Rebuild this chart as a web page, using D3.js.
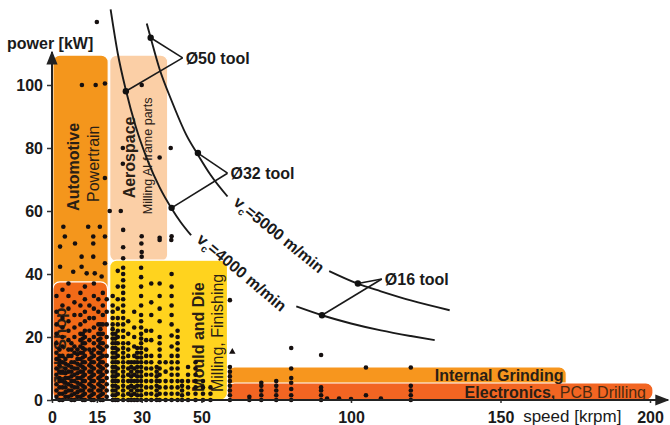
<!DOCTYPE html>
<html>
<head>
<meta charset="utf-8">
<script src="https://cdn.jsdelivr.net/npm/d3@7"></script>
<style>
  html, body { margin: 0; padding: 0; background: #fff; }
  svg { display: block; font-family: "Liberation Sans", Arial, sans-serif; }
</style>
</head>
<body>
<svg id="chart" width="670" height="425"></svg>
<script>
// Axis ticks
const speedTicks = [0, 15, 30, 50, 100, 150, 200];
const powerTicks = [0, 20, 40, 60, 80, 100];

// Application zones: speed range [krpm] and power range [kW]
const zoneNames  = ["Automotive", "Aerospace", "Job Shop", "Mould and Die", "Internal Grinding", "Electronics"];
const zoneSpeed  = [[0.3, 18.8], [19.3, 38.7], [0.3, 18.6], [19.3, 58.7], [58.7, 172], [58.7, 201]];
const zonePower  = [[0, 109.5], [44, 109.5], [0, 37.5], [0, 44.4], [0, 10.5], [0, 5.4]];

// Cutting-speed curves (null = gap for the curve label)
const curve5000 = [[31.7,119.5],[33,115],[36,105],[40,95],[45,84],[48.7,78],[53,71.5],[58.7,64.6],null,
                   [92.7,40.9],[102,37],[110,34.5],[120,31.6],[133,28.5]];
const curve4000 = [[19.6,124],[22,110],[24.7,98.4],[28,86.8],[32,76],[36,67.5],[40,60.8],[43,56.5],[46.5,52.3],null,
                   [81.7,29.7],[90.3,26.9],[100,24.3],[110,22.1],[120,20.3],[128,19]];

// Tool diameters: operating points on each curve and label anchor
const toolNames   = ["Ø50 tool", "Ø32 tool", "Ø16 tool"];
const tool5000    = [[33, 115], [48.8, 78.4], [102.3, 37]];
const tool4000    = [[24.7, 98], [40, 61], [90.3, 26.9]];
const toolLabelAt = [[43.7, 108.6], [58.7, 72], [110.3, 38.4]];

// Spindle applications: columns of [speed, list of power values]
const machineColumns = [
  [1.5,  [1,3,5,8,10,13,15,18,21,24,28,33]],
  [2.5,  [0,2,4,6,7,9,11,12.5,14,16]],
  [3.5,  [0,2,4,6,9,12,14,17,20,23,26,30,35]],
  [4.5,  [1,2.5,4,5.5,7,8.5,10,11.5,13]],
  [5.5,  [1,3,5,7,9,11,14,16,19,22,25,29,33,37]],
  [6.5,  [0,1.5,3,4.5,6,7.5,9,10.5,12,14,16,18]],
  [7.5,  [0,2,4,6,8,10,12,15,17,20,23,27,31]],
  [8.5,  [1,2.5,4,5.5,7,8.5,10,11.5,13,14.5,16]],
  [9.5,  [1,3,5,7,9,11,13,15,17,19,21,24,27,30,34]],
  [10.3, [0,1.5,3,4.5,6,7.5,9,10.5,12,13.5,15,16.5,18,19.5,21]],
  [11,   [0,2,4,6,8,10,12,14,16,18,20,22,25,28,32,36]],
  [12.5, [1,3,5,7,9,11,13,16,19,22,26,30]],
  [13.2, [0,1.5,3,4.5,6,7.5,9,10.5,12,13.5,15]],
  [14,   [0,2,4,6,8,10,12,14,16,18,20,23,26,29,33,37]],
  [15.5, [1,3,5,7,9,11,13,15,17,19,21,24,28,32]],
  [16.2, [0,1.5,3,4.5,6,7.5,9,10.5,12,13.5,15,16.5,18,19.5,21,22.5,24]],
  [17,   [0,2,4,6,8,10,12,14,16,18,21,24,27,30,34]],
  [18.3, [1,3,5,7,9,11,14,17,20,24,28,32]],
  [20.3, [0,1.5,3,4.5,6,7.5,9,10.5,12,13.5,15,16.5,18,19.5,21,22.5,24,26,28,30,33]],
  [21.2, [0,1.5,3,4.5,6,7.5,9,10.5,12,13.5,15,16.5,18,19.5,21]],
  [22,   [0,2,4,6,8,10,12,14,16,18,20,22,24,26,29,32,36,41]],
  [23.8, [0,1.5,3,4.5,6,7.5,9,10.5,12,13.5,15,16.5,18,20,22,24,26,28,30,32,34,36,38,40,42]],
  [25.5, [0,2,4,6,8,10,12,14,16,18,21,25]],
  [26.5, [0,1.5,3,4.5,6,7.5,9,10.5,12]],
  [27.5, [0,2,4,6,8,10,12,14,17,20,23,28]],
  [28.5, [0,1.5,3,4.5,6,7.5,9,10.5,12,13.5,15,16.5]],
  [29.8, [0,1.5,3,4.5,6,7.5,9,10.5,12,13.5,15,16.5,18,19.5,21,23,25,27,30,33,36,39,42]],
  [31.5, [0,2,4,6,8,10,12,14,16,19,22]],
  [33.2, [0,2,4,6,8,10,12,14,19,22,27,31,37]],
  [35,   [0,1.5,3,4.5,6,7.5,9,10.5]],
  [36,   [0,2,4,6,8,10,12,14,16,18,20,25,29,33,37]],
  [38,   [0,2,4,6,9,12]],
  [40,   [0,2,4,6,8,10,12,14,17,20.5,24,27,30,33,36,40]],
  [42,   [0,2,4,6,8,10,12,14,16,18,20,22]],
  [43.5, [0,1.5,3,4.5,6]],
  [45.5, [0,2,4,6,8,10.5]],
  [48,   [0,2,4,6,8,10,12]],
  [50.5, [0,2,4,6]],
  [53,   [0,2,4]],
  [59.5, [0,1.5,3,4.5,6,7.5,9,10.5,31.7]],
  [66,   [0,1]],
  [70,   [0,1.5,3,4.5,5.5]],
  [75,   [0,1.5,3,4.5,6]],
  [80,   [0,1.5,3.5,5.5,7,10,16.5]],
  [90,   [0,1.5,3,4,14.3]],
  [92,   [0.5]],
  [96,   [0.5]],
  [100,  [0.3]],
  [105,  [1.5,10.3]],
  [110,  [0.5]],
  [120,  [0,1.5,3,4.5,10.3]]
];
// Isolated applications in the upper zones
const machinePoints = [
  [3.8,55],[12.1,55],[16,55],[4.3,51.9],[13.8,51.9],[17.7,51.9],[2.7,48.7],[7.7,49.7],[13.8,49.7],
  [9.9,45.5],[13.8,45.5],[17.7,43.4],[2.7,42.3],[7.1,40.7],[9.9,42.3],[11.6,40.2],[14.3,40.2],[16.6,39.2],
  [17.7,70.5],[19.3,60],[23,60],[10,100],[14.6,100],[17.7,100.5],[15,120],
  [23.7,80],[23.7,75],[36,77],[39.7,80],[30,100],
  [23.8,54],[30,52],[36,51.5],[40,52],[23.8,48.5],[30,47],[23.8,45],[30,45.5],[29.9,49.7],[39.9,50.8],[36,50.8]
];
const trianglePoints = [[60.3, 15.3]];

const svg = d3.select("#chart");
const x = d3.scaleLinear().domain([0, 200]).range([52, 650]);
const y = d3.scaleLinear().domain([0, 100]).range([400, 85]);

// Zones
const zoneFill = ["#f4961c", "#fbcfa6", "#f26a18", "#ffd31e", "#f7961e", "#f26522"];
const zones = zoneNames.map((n, i) => ({ name: n, s: zoneSpeed[i], p: zonePower[i], fill: zoneFill[i] }));
svg.append("g").selectAll("rect").data(zones).join("rect")
  .attr("x", d => x(d.s[0]))
  .attr("y", d => y(d.p[1]))
  .attr("width", d => x(d.s[1]) - x(d.s[0]))
  .attr("height", d => y(d.p[0]) - y(d.p[1]))
  .attr("rx", 7).attr("ry", 7)
  .attr("fill", d => d.fill)
  .attr("stroke", "#fff").attr("stroke-width", 1.2);

// Zone labels
const labelColor = "#2a2015";
const zoneLabels = [
  { t: "Automotive", at: [7, 74], w: 700, r: -90 },
  { t: "Powertrain", at: [13.7, 75], w: 400, r: -90 },
  { t: "Aerospace", at: [26, 77], w: 700, r: -90 },
  { t: "Milling Al-frame parts", at: [32, 77.5], w: 400, r: -90, fs: 12.5 },
  { t: "Job Shop", at: [2.7, 17], w: 700, r: -90, fs: 17 },
  { t: "Mould and Die", at: [48.8, 20], w: 700, r: -90 },
  { t: "Milling, Finishing", at: [55.2, 21.3], w: 400, r: -90 }
];
svg.append("g").selectAll("text").data(zoneLabels).join("text")
  .attr("transform", d => `translate(${x(d.at[0])},${y(d.at[1])}) rotate(${d.r})`)
  .attr("text-anchor", "middle")
  .attr("dy", "0.35em")
  .attr("font-size", d => d.fs || 16)
  .attr("font-weight", d => d.w)
  .attr("fill", labelColor)
  .text(d => d.t);

// Machine data points
const dots = [];
machineColumns.forEach(([s, ps]) => ps.forEach(p => dots.push([s, p])));
machinePoints.forEach(d => dots.push(d));
svg.append("g").selectAll("circle").data(dots).join("circle")
  .attr("cx", d => x(d[0])).attr("cy", d => y(d[1]))
  .attr("r", 2.3).attr("fill", "#161010");
svg.append("g").selectAll("path").data(trianglePoints).join("path")
  .attr("transform", d => `translate(${x(d[0])},${y(d[1])})`)
  .attr("d", d3.symbol(d3.symbolTriangle, 18))
  .attr("fill", "#161010");

// Horizontal band labels
svg.append("text").attr("x", x(128)).attr("y", y(6))
  .attr("font-size", 16).attr("font-weight", 700).attr("fill", labelColor)
  .text("Internal Grinding");
const el = svg.append("text").attr("x", x(138)).attr("y", y(0.6))
  .attr("font-size", 16).attr("fill", labelColor);
el.append("tspan").attr("font-weight", 700).text("Electronics, ");
el.append("tspan").attr("font-weight", 400).attr("fill", "#4a2a10").text("PCB Drilling");

// Cutting-speed curves
const line = d3.line().defined(d => d).x(d => x(d[0])).y(d => y(d[1])).curve(d3.curveMonotoneX);
svg.append("g").selectAll("path").data([curve5000, curve4000]).join("path")
  .attr("d", line).attr("fill", "none").attr("stroke", "#1a1a1a").attr("stroke-width", 1.9);

// Curve labels
const curveLabels = [
  { v: "5000", at: [76, 52.5], r: 39 },
  { v: "4000", at: [63.5, 40.5], r: 40 }
];
const cl = svg.append("g").selectAll("text").data(curveLabels).join("text")
  .attr("transform", d => `translate(${x(d.at[0])},${y(d.at[1])}) rotate(${d.r})`)
  .attr("text-anchor", "middle").attr("dy", "0.35em")
  .attr("font-size", 16).attr("font-weight", 700).attr("fill", "#1a1a1a");
cl.append("tspan").text("v");
cl.append("tspan").attr("font-size", 10).attr("dy", 4).text("c");
cl.append("tspan").attr("dy", -4).text(d => `=${d.v} m/min`);

// Tool leaders and markers
const toolG = svg.append("g");
toolNames.forEach((name, i) => {
  const a = toolLabelAt[i];
  [tool5000[i], tool4000[i]].forEach(p => {
    toolG.append("line")
      .attr("x1", x(p[0])).attr("y1", y(p[1]))
      .attr("x2", x(a[0])).attr("y2", y(a[1]))
      .attr("stroke", "#1a1a1a").attr("stroke-width", 1.6);
    toolG.append("circle").attr("cx", x(p[0])).attr("cy", y(p[1])).attr("r", 3.2).attr("fill", "#111");
  });
  toolG.append("text").attr("x", x(a[0]) + 3).attr("y", y(a[1])).attr("dy", "0.35em")
    .attr("font-size", 16).attr("font-weight", 700).attr("fill", "#1a1a1a").text(name);
});

// Axes
const yAxis = svg.append("g").attr("transform", `translate(${x(0)},0)`)
  .call(d3.axisLeft(y).tickValues(powerTicks).tickSize(5).tickPadding(4));
const xAxis = svg.append("g").attr("transform", `translate(0,${y(0)})`)
  .call(d3.axisBottom(x).tickValues(speedTicks).tickSize(3).tickPadding(9));
[yAxis, xAxis].forEach(g => {
  g.select(".domain").remove();
  g.selectAll(".tick line").attr("stroke", "#333").attr("stroke-width", 1.5);
  g.selectAll(".tick text").attr("font-size", 16).attr("font-weight", 700)
    .attr("fill", "#1a1a1a").attr("font-family", "Liberation Sans, Arial, sans-serif");
});

svg.append("defs").append("marker")
  .attr("id", "arrow").attr("viewBox", "0 0 10 10").attr("refX", 9).attr("refY", 5)
  .attr("markerWidth", 7).attr("markerHeight", 7).attr("orient", "auto")
  .append("path").attr("d", "M0,1L10,5L0,9Z").attr("fill", "#222");
svg.append("line").attr("x1", x(0)).attr("y1", y(0)).attr("x2", x(0)).attr("y2", y(110.5))
  .attr("stroke", "#222").attr("stroke-width", 2).attr("marker-end", "url(#arrow)");
svg.append("line").attr("x1", x(0)).attr("y1", y(0)).attr("x2", x(206)).attr("y2", y(0))
  .attr("stroke", "#222").attr("stroke-width", 2).attr("marker-end", "url(#arrow)");

svg.append("text").attr("x", 7).attr("y", 49)
  .attr("font-size", 16).attr("font-weight", 700).attr("fill", "#1a1a1a").text("power [kW]");
svg.append("text").attr("x", x(174)).attr("y", 422).attr("text-anchor", "middle")
  .attr("font-size", 17).attr("fill", "#1a1a1a").text("speed [krpm]");
</script>
</body>
</html>
